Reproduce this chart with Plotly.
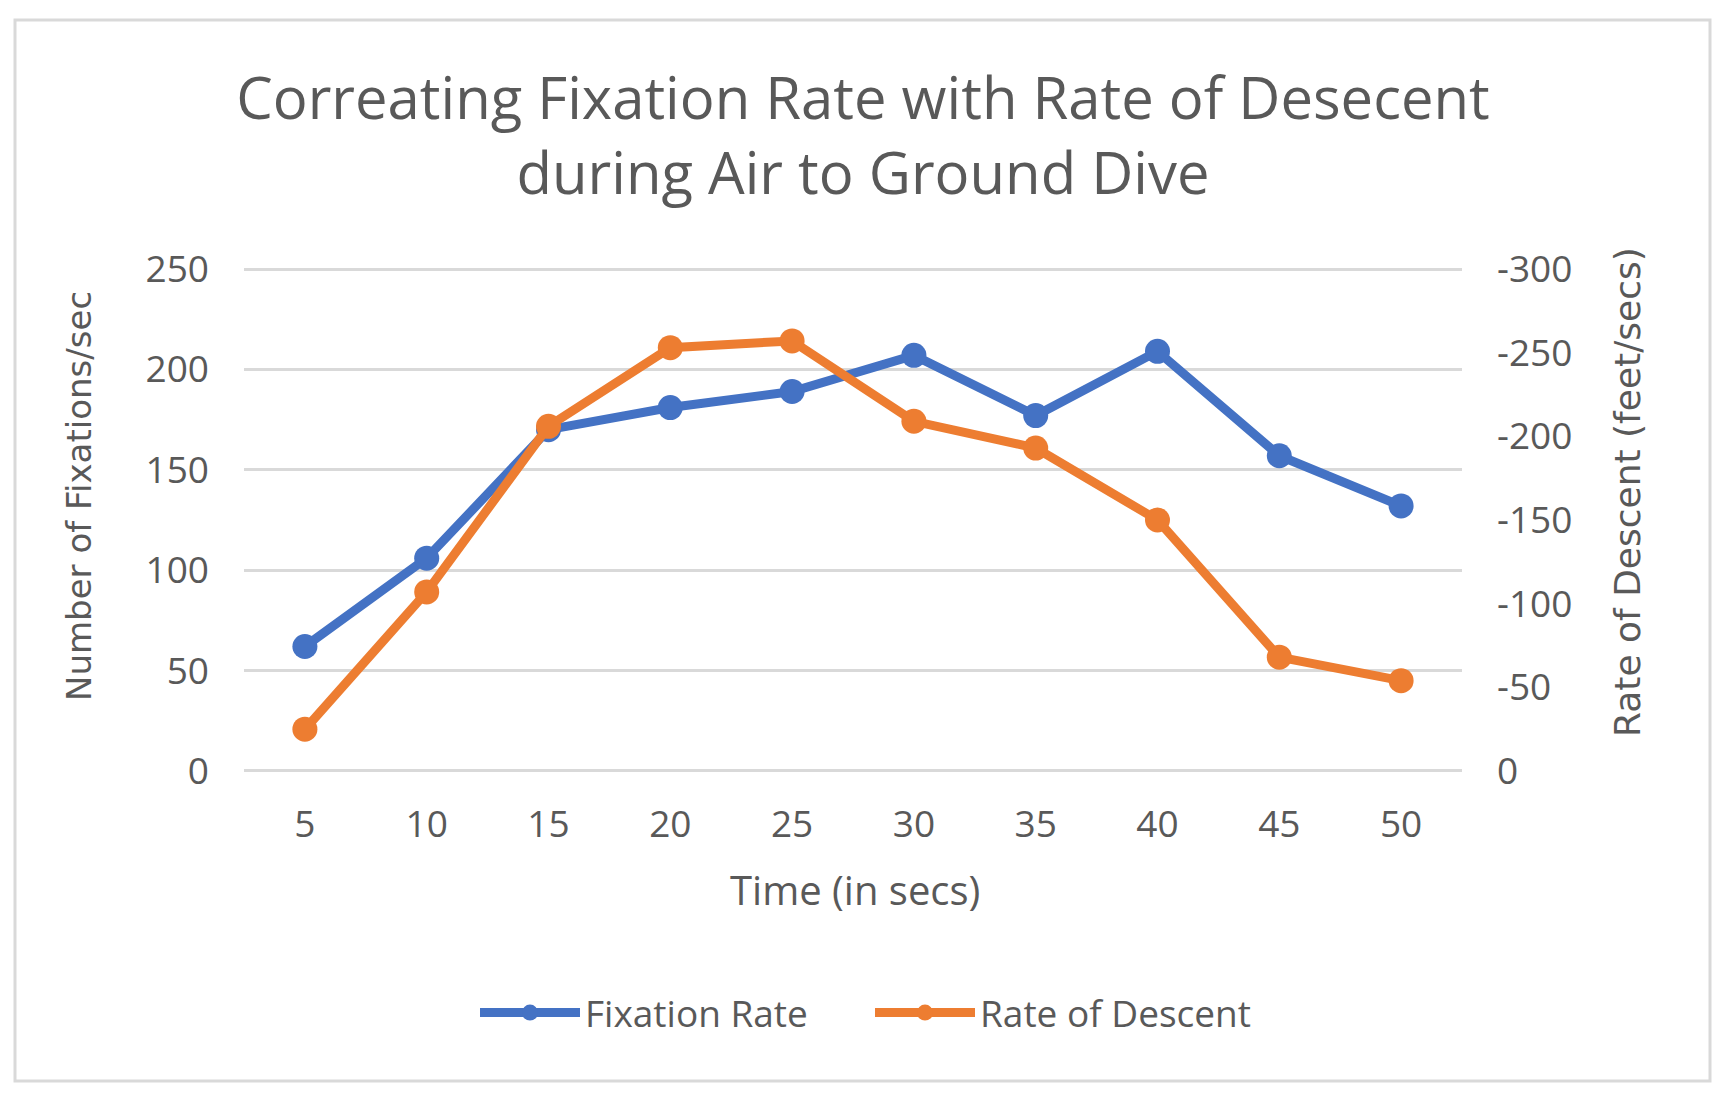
import plotly.graph_objects as go

TIME_SECS = ["5", "10", "15", "20", "25", "30", "35", "40", "45", "50"]
FIXATION_RATE = [62, 106, 170, 181, 189, 207, 177, 209, 157, 132]
RATE_OF_DESCENT = [-25, -107, -206, -253, -257, -209, -193, -150, -68, -54]

LEFT_TICKS = [0, 50, 100, 150, 200, 250]
RIGHT_TICKS = [0, -50, -100, -150, -200, -250, -300]

BLUE = "#4472C4"
ORANGE = "#ED7D31"
GREY_TEXT = "#595959"
GRID = "#D9D9D9"
FONT = "Open Sans"
TITLE_FONT = "DejaVu Sans"

# the page body has an 8px margin, so the figure is sized to fit inside it
W, H = 1718, 1090
# plot area padded by 4px top/bottom so the 0 and 250 gridlines are not clipped
M_L, M_R, M_T, M_B = 236, 264, 257, 323
PW, PH = W - M_L - M_R, H - M_T - M_B
PAD = 2  # axis units of padding (left axis), ~4px


def px(x):
    """Screen x (px) -> paper x."""
    return (x - 8 - M_L) / PW


def py(y):
    """Screen y (px) -> paper y."""
    return (H - M_B - (y - 8)) / PH


fig = go.Figure()
fig.add_trace(
    go.Scatter(
        x=TIME_SECS,
        y=FIXATION_RATE,
        name="Fixation Rate",
        mode="lines+markers",
        line=dict(color=BLUE, width=9),
        marker=dict(color=BLUE, size=25),
    )
)
fig.add_trace(
    go.Scatter(
        x=TIME_SECS,
        y=RATE_OF_DESCENT,
        name="Rate of Descent",
        mode="lines+markers",
        line=dict(color=ORANGE, width=9),
        marker=dict(color=ORANGE, size=25),
        yaxis="y2",
    )
)

pad2 = PAD * 300 / 250

fig.update_layout(
    width=W,
    height=H,
    margin=dict(l=M_L, r=M_R, t=M_T, b=M_B),
    paper_bgcolor="white",
    plot_bgcolor="white",
    font=dict(family=FONT, color=GREY_TEXT, size=37),
    title=dict(
        text="Correating Fixation Rate with Rate of Desecent<br>during Air to Ground Dive",
        x=(863 - 8) / W,
        xanchor="center",
        xref="container",
        y=1 - 111 / H,
        yanchor="middle",
        yref="container",
        font=dict(family=FONT, size=58, color=GREY_TEXT),
    ),
    xaxis=dict(
        type="category",
        range=[-0.5, 9.5],
        showgrid=False,
        zeroline=False,
        showline=False,
        ticks="",
        ticklabelstandoff=24,
        tickfont=dict(size=37),
    ),
    yaxis=dict(
        range=[-PAD, 250 + PAD],
        tickvals=LEFT_TICKS,
        showgrid=True,
        gridcolor=GRID,
        gridwidth=3,
        zeroline=False,
        showline=False,
        ticks="",
        ticklabelstandoff=34,
        tickfont=dict(size=37),
    ),
    yaxis2=dict(
        overlaying="y",
        side="right",
        range=[pad2, -300 - pad2],
        tickvals=RIGHT_TICKS,
        ticktext=[str(v) for v in RIGHT_TICKS],
        showgrid=False,
        zeroline=False,
        showline=False,
        ticks="",
        ticklabelstandoff=34,
        tickfont=dict(size=37),
    ),
    legend=dict(
        orientation="h",
        x=px(870),
        xanchor="center",
        y=py(1013),
        yanchor="middle",
        font=dict(size=37),
        itemwidth=100,
        entrywidth=280,
        bgcolor="rgba(0,0,0,0)",
    ),
    showlegend=True,
)

fig.add_annotation(
    text="Time (in secs)",
    xref="paper", yref="paper",
    x=px(855), y=py(889),
    xanchor="center", yanchor="middle",
    showarrow=False,
    font=dict(size=40),
)
fig.add_annotation(
    text="Number of Fixations/sec",
    xref="paper", yref="paper",
    x=px(79), y=py(496),
    xanchor="center", yanchor="middle",
    textangle=-90,
    showarrow=False,
    font=dict(family=TITLE_FONT, size=34),
)
fig.add_annotation(
    text="Rate of Descent (feet/secs)",
    xref="paper", yref="paper",
    x=px(1627), y=py(492),
    xanchor="center", yanchor="middle",
    textangle=-90,
    showarrow=False,
    font=dict(family=TITLE_FONT, size=36),
)

# outer chart border
fig.add_shape(
    type="rect",
    xref="paper", yref="paper",
    x0=px(15), x1=px(1710),
    y0=py(1081), y1=py(20),
    line=dict(color=GRID, width=3),
    layer="below",
)

fig.write_html("out.html")
